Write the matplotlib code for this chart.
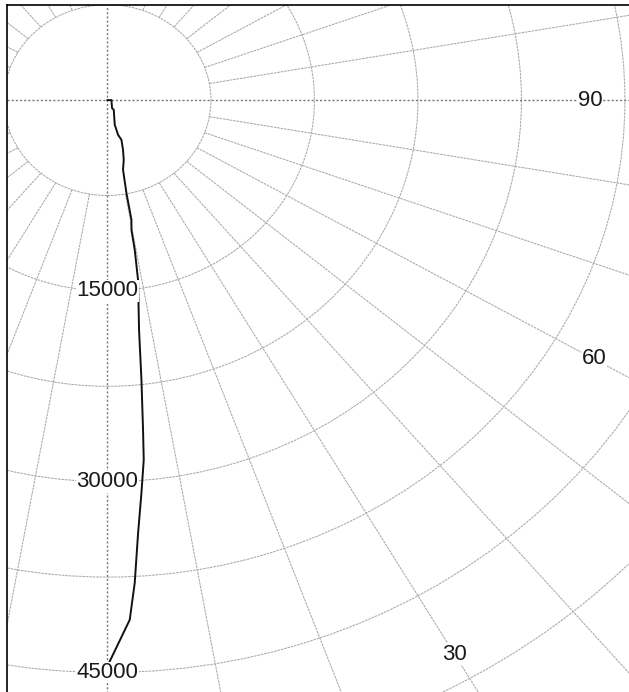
import matplotlib.pyplot as plt
import matplotlib.patches as mpatches
import numpy as np

plt.rcParams['font.family'] = ['Liberation Sans', 'DejaVu Sans']

# trace (east = right, south = down, same units as the rings)
east = [0, 290, 333, 457, 529, 652, 768, 1014, 1130, 1181, 1130, 1377, 1739, 1739,
        1978, 2217, 2290, 2464, 2580, 2630, 2464, 2217, 1978, 1616, 116]
south = [0, 0, 629, 763, 1942, 2335, 2728, 3121, 3907, 4693, 5480, 7311, 9410, 10197,
         11770, 14128, 18058, 21989, 25920, 28278, 30873, 34100, 37948, 40857, 44238]

ring_step = 7500
ring_max = 75000
spoke_step = 10
ring_labels = [15000, 30000, 45000]
angle_labels = ['90', '60', '30']
angle_label_pos = [(90, 35000), (60, 40700), (30, 50300)]

W, H = 629, 692
fig = plt.figure(figsize=(W / 100, H / 100), dpi=100)

# axes box: left/top spines visible, right/bottom run past the picture
x0, x1 = -7300, 40000
y0, y1 = -50000, 7500
kx, ky = 0.0138, 0.01272
left_px, top_px = 6.7, 4.7
ax_w = (x1 - x0) * kx
ax_h = (y1 - y0) * ky
ax = fig.add_axes([left_px / W, 1 - (top_px + ax_h) / H, ax_w / W, ax_h / H])
ax.set_xlim(x0, x1)
ax.set_ylim(y0, y1)
ax.set_xticks([])
ax.set_yticks([])
for s in ax.spines.values():
    s.set_linewidth(1.2)
    s.set_color('black')

grid_kw = dict(color='#a9a9a9', lw=0.75, ls=(0, (2.5, 0.8)))

# rings
for r in np.arange(ring_step, ring_max + 1, ring_step):
    ax.add_patch(mpatches.Circle((0, 0), r, fill=False, ec=grid_kw['color'],
                                 lw=grid_kw['lw'], ls=grid_kw['ls']))

# spokes from the first ring outward
for a in range(0, 360, spoke_step):
    if a % 90 == 0:
        continue
    t = np.deg2rad(a)
    ax.plot([ring_step * np.sin(t), ring_max * np.sin(t)],
            [-ring_step * np.cos(t), -ring_max * np.cos(t)], **grid_kw)

# axis cross
ax.axhline(0, color='#777777', lw=1.0, ls=(0, (1.5, 1.5)))
ax.axvline(0, color='#777777', lw=1.0, ls=(0, (1.5, 1.5)))

ax.plot(east, [-v for v in south], color='#111111', lw=1.4, zorder=5)

bb = dict(facecolor='white', edgecolor='none', pad=0.3)
for r in ring_labels:
    ax.text(0, -r, str(r), ha='center', va='center', fontsize=16, color='#1a1a1a',
            bbox=bb, zorder=6)
for lab, (a, r) in zip(angle_labels, angle_label_pos):
    t = np.deg2rad(a)
    ax.text(r * np.sin(t), -r * np.cos(t), lab, ha='center', va='center', fontsize=16,
            color='#1a1a1a', bbox=bb, zorder=6)

fig.savefig('out.png', dpi=100)
